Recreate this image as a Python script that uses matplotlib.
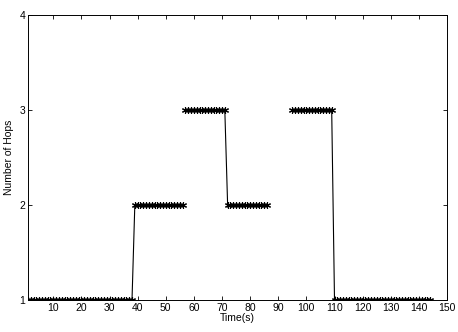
import numpy as np
import matplotlib.pyplot as plt

plt.rcParams['font.family'] = ['Liberation Sans', 'DejaVu Sans']

# ------------------- Data -------------------
# each run is a connected piece of the trace; runs are separated by gaps
run1_start = [1, 39]
run1_end = [38, 56]
run1_hops = [1, 2]

run2_start = [57, 72]
run2_end = [71, 86]
run2_hops = [3, 2]

run3_start = [95, 110]
run3_end = [109, 144]
run3_hops = [3, 1]

x_ticks = [10, 20, 30, 40, 50, 60, 70, 80, 90, 100, 110, 120, 130, 140, 150]
y_ticks = [1, 2, 3, 4]


def build_run(starts, ends, hops):
    t, h = [], []
    for s, e, v in zip(starts, ends, hops):
        for sec in range(s, e + 1):
            t.append(sec)
            h.append(v)
    return np.array(t), np.array(h)


# ------------------- Plot -------------------
fig = plt.figure(figsize=(4.58, 3.32), dpi=100)
ax = fig.add_axes([0.061, 0.096, 0.915, 0.859])

for starts, ends, hops in [(run1_start, run1_end, run1_hops),
                           (run2_start, run2_end, run2_hops),
                           (run3_start, run3_end, run3_hops)]:
    t, h = build_run(starts, ends, hops)
    ax.plot(t, h, color='black', linewidth=0.8, marker=(6, 2, 0),
            markersize=5, markeredgewidth=0.8)

ax.set_xlim(1, 150)
ax.set_ylim(1, 4)
ax.set_xticks(x_ticks)
ax.set_yticks(y_ticks)
ax.tick_params(direction='in', top=True, right=True, labelsize=7.5,
               length=3, width=0.6, pad=2)
for sp in ax.spines.values():
    sp.set_linewidth(0.7)
ax.set_xlabel('Time(s)', fontsize=7.5, labelpad=0)
ax.set_ylabel('Number of Hops', fontsize=7.5, labelpad=4)

fig.savefig('out.png', dpi=100)
